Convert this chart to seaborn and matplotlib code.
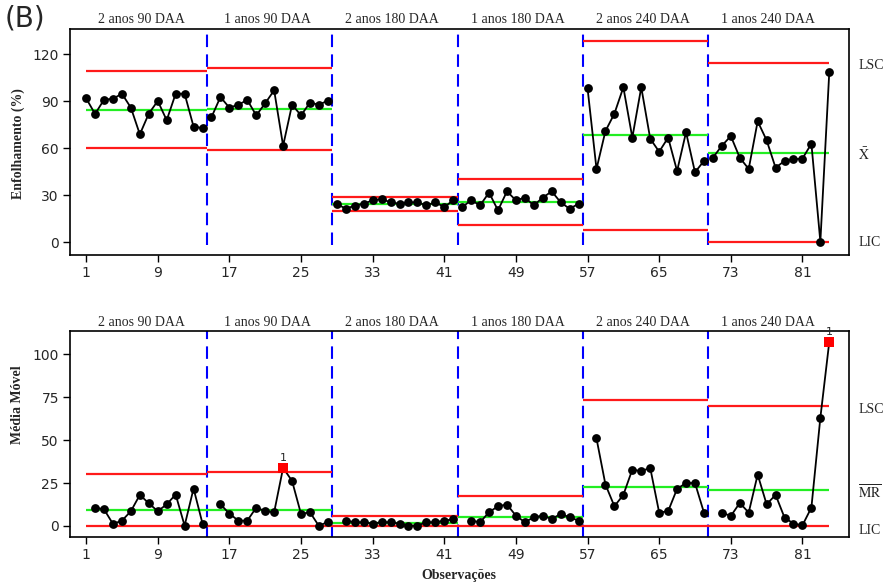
import numpy as np
import pandas as pd
import matplotlib
matplotlib.use("Agg")
import matplotlib.pyplot as plt
import matplotlib.transforms as mtransforms
import seaborn as sns

# --- data -----------------------------------------------------------------
grupos = ["2 anos 90 DAA", "1 anos 90 DAA", "2 anos 180 DAA",
          "1 anos 180 DAA", "2 anos 240 DAA", "1 anos 240 DAA"]
n_por_grupo = 14

enfolhamento = [
    91.9, 81.9, 91.0, 91.6, 94.8, 85.9, 68.9, 82.1, 90.2, 77.9, 94.8, 94.8, 73.8, 72.9,
    79.8, 92.7, 85.9, 87.8, 90.8, 81.0, 88.7, 97.0, 61.6, 87.8, 81.0, 89.1, 87.8, 90.4,
    24.5, 21.4, 23.4, 24.6, 26.8, 27.6, 25.5, 24.6, 25.5, 25.5, 23.6, 25.5, 22.5, 26.8,
    22.5, 26.8, 23.6, 31.7, 20.4, 32.5, 26.8, 28.5, 23.6, 28.5, 32.5, 25.5, 21.4, 24.6,
    98.3, 46.8, 71.0, 82.1, 98.9, 66.8, 98.9, 66.1, 57.8, 66.8, 45.5, 70.2, 44.7, 51.9,
    54.0, 61.6, 67.8, 54.0, 46.8, 77.2, 65.1, 47.6, 51.9, 53.0, 53.4, 62.9, 0.4, 108.9,
]

amplitude_movel = [
    np.nan, 10.7, 9.7, 1.2, 3.1, 8.6, 18.1, 13.2, 8.6, 12.6, 18.3, 0.2, 21.8, 1.4,
    np.nan, 12.6, 7.2, 3.1, 3.1, 10.7, 8.6, 8.0, 33.8, 26.2, 7.0, 8.0, 0.0, 2.5,
    np.nan, 3.1, 2.2, 2.2, 1.4, 2.2, 2.2, 1.4, 0.2, 0.2, 2.2, 2.2, 3.1, 3.9,
    np.nan, 3.1, 2.2, 8.0, 11.5, 12.5, 6.0, 2.2, 5.1, 6.0, 4.1, 7.0, 5.1, 3.1,
    np.nan, 50.9, 24.1, 11.5, 18.1, 32.8, 31.9, 33.8, 7.8, 8.6, 21.6, 25.0, 25.0, 7.8,
    np.nan, 7.8, 5.8, 13.4, 7.8, 29.9, 12.6, 18.1, 4.9, 1.4, 0.4, 10.7, 62.9, 107.2,
]

# control limits per stage
lsc_x = [109.5, 111.4, 29.1, 40.2, 128.7, 114.6]
media_x = [84.4, 85.3, 24.4, 25.9, 68.3, 57.2]
lic_x = [60.4, 59.1, 20.2, 11.0, 8.0, 0.0]

lsc_mr = [30.3, 31.3, 5.6, 17.5, 73.4, 69.7]
media_mr = [9.1, 9.3, 2.0, 5.3, 22.9, 21.0]
lic_mr = [0.0, 0.0, 0.0, 0.0, 0.0, 0.0]

xticks = [1, 9, 17, 25, 33, 41, 49, 57, 65, 73, 81]
yticks_x = [0, 30, 60, 90, 120]
yticks_mr = [0, 25, 50, 75, 100]

# --- frame ----------------------------------------------------------------
obs = np.arange(1, len(enfolhamento) + 1)
estagio = np.repeat(np.arange(len(grupos)), n_por_grupo)
df = pd.DataFrame({"obs": obs, "estagio": estagio,
                   "x": enfolhamento, "mr": amplitude_movel})
df["lsc_mr"] = np.array(lsc_mr)[df["estagio"]]
df["fora"] = df["mr"] > df["lsc_mr"]

sns.set_style("white")
plt.rcParams["mathtext.fontset"] = "stix"
SERIF = ["Liberation Serif", "DejaVu Serif"]
plt.rcParams["font.family"] = ["DejaVu Sans"]

W, H = 887, 583
fig = plt.figure(figsize=(W / 100, H / 100), dpi=100)


def frac(left, top, right, bottom):
    return [left / W, 1 - bottom / H, (right - left) / W, (bottom - top) / H]


ax1 = fig.add_axes(frac(70, 29, 849, 255))
ax2 = fig.add_axes(frac(70, 331, 849, 537))

bounds = [g * n_por_grupo + 0.5 for g in range(1, len(grupos))]
n_tot = len(enfolhamento)


def stage_span(g):
    x0 = 1 if g == 0 else bounds[g - 1]
    x1 = n_tot if g == len(grupos) - 1 else bounds[g]
    return x0, x1


def draw_chart(ax, col, lsc, media, lic, ylim, yticks, right_labels, vmin):
    # stage separators
    for b in bounds:
        ax.axvline(b, ymin=vmin, ymax=1.0, color="#0000ff", lw=1.5,
                   dashes=(6, 3.5), zorder=1)
    # limits and centre lines
    for g in range(len(grupos)):
        x0, x1 = stage_span(g)
        ax.hlines([lsc[g], lic[g]], x0, x1, color="#ff1a1a", lw=1.6, zorder=2)
        ax.hlines(media[g], x0, x1, color="#22ee22", lw=1.6, zorder=2)
    # observations, one line per stage
    sns.lineplot(data=df, x="obs", y=col, units="estagio", estimator=None,
                 color="black", lw=1.3, ax=ax, zorder=3, legend=False)
    ok = df[~df["fora"]] if col == "mr" else df
    sns.scatterplot(data=ok, x="obs", y=col, color="black", s=40,
                    edgecolor="black", linewidth=0, ax=ax, zorder=4, legend=False)
    if col == "mr":
        bad = df[df["fora"]]
        sns.scatterplot(data=bad, x="obs", y=col, color="#ff0000", marker="s",
                        s=48, linewidth=0, ax=ax, zorder=5, legend=False)
        for _, r in bad.iterrows():
            ax.annotate("1", (r["obs"], r[col]), xytext=(0, 3.5),
                        textcoords="offset points", ha="center", va="bottom",
                        fontsize=8, annotation_clip=False, zorder=6)

    ax.set_xlim(-0.8, 86.2)
    ax.set_ylim(*ylim)
    ax.set_xticks(xticks)
    ax.set_yticks(yticks)
    ax.set_xlabel("")
    ax.set_ylabel("")
    ax.tick_params(axis="both", direction="out", length=5, width=1,
                   labelsize=10, color="black", pad=3,
                   bottom=True, left=True)
    for s in ax.spines.values():
        s.set_visible(True)
        s.set_color("black")
        s.set_linewidth(1.2)

    trans = mtransforms.blended_transform_factory(ax.transData, ax.transAxes)
    for g, nome in enumerate(grupos):
        first = g * n_por_grupo + 1
        last = first + n_por_grupo - 1
        ax.text((first + last) / 2 - 0.3, 1.012, nome, transform=trans,
                ha="center", va="bottom", fontsize=10, family=SERIF)

    rtrans = mtransforms.blended_transform_factory(ax.transAxes, ax.transData)
    for lbl, yv in right_labels:
        ax.text(1.012, yv, lbl, transform=rtrans, ha="left", va="center",
                fontsize=10, family=SERIF)


draw_chart(ax1, "x", lsc_x, media_x, lic_x, (-8.1, 136.1), yticks_x,
           [("LSC", lsc_x[-1] - 1.5), (r"$\bar{\mathrm{X}}$", media_x[-1] - 1.5),
            ("LIC", lic_x[-1])], 0.045)
draw_chart(ax2, "mr", lsc_mr, media_mr, lic_mr, (-6.4, 113.4), yticks_mr,
           [("LSC", lsc_mr[-1] - 2), (r"$\overline{\mathrm{MR}}$", media_mr[-1] - 1.5),
            ("LIC", lic_mr[-1] - 2.5)], 0.0)

fig.text(18 / W, 1 - 144 / H, "Enfolhamento (%)", rotation=90, ha="center",
         va="center", fontsize=10, fontweight="bold", family=SERIF)
fig.text(18 / W, 1 - 405 / H, "Média Móvel", rotation=90, ha="center",
         va="center", fontsize=10, fontweight="bold", family=SERIF)
fig.text(459 / W, 1 - 575 / H, "Observações", ha="center", va="center",
         fontsize=10, fontweight="bold", family=SERIF)
fig.text(5 / W, 1 - 5 / H, "(B)", ha="left", va="top", fontsize=20)

fig.savefig("out.png", dpi=100, facecolor="white")
